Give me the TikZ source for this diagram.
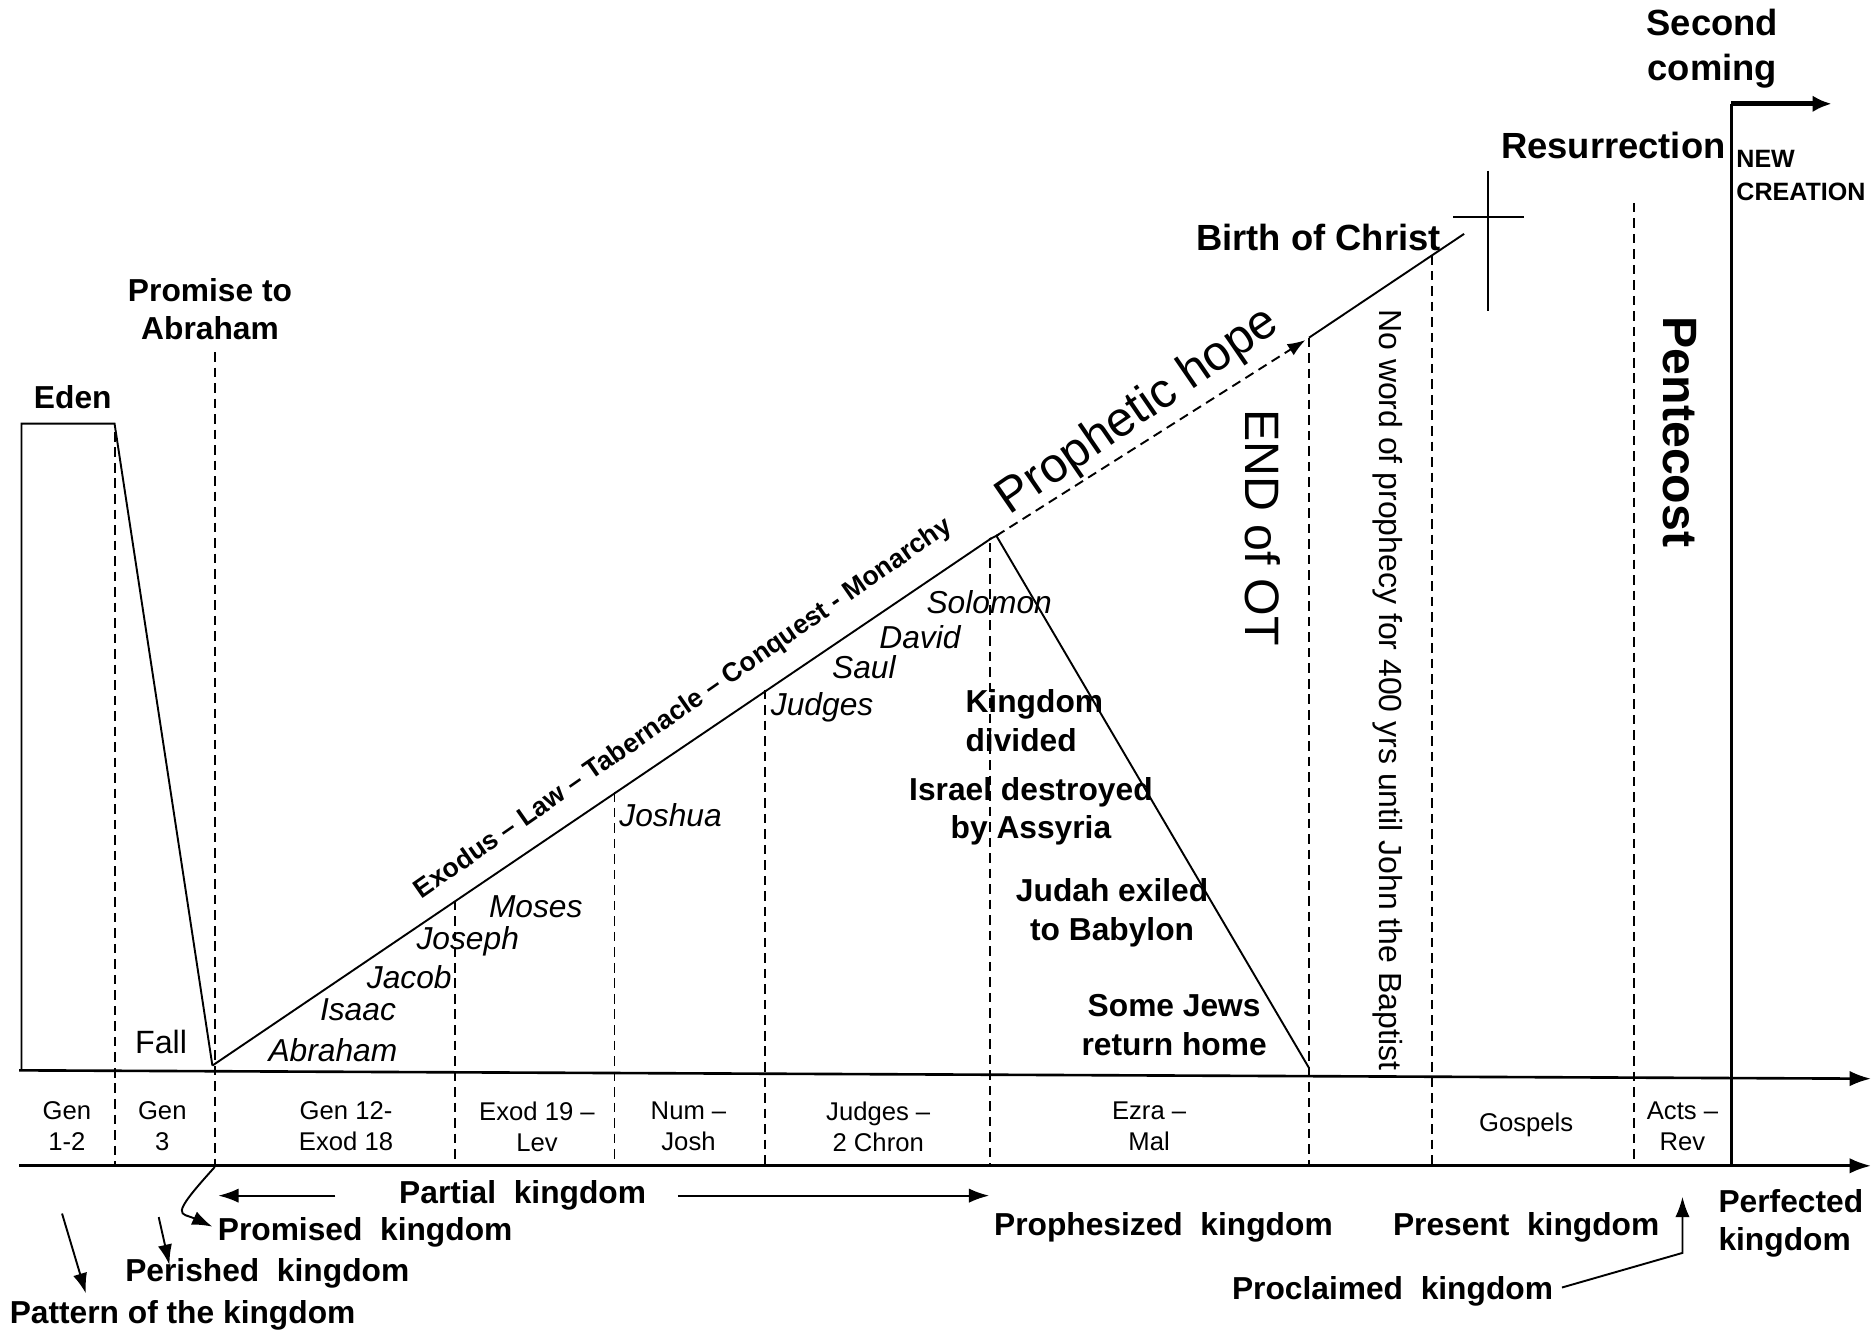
\documentclass[tikz,border=0pt]{standalone}
\usepackage{fontspec}
\setmainfont{Liberation Sans}
\usetikzlibrary{arrows.meta}
\begin{document}
\begin{tikzpicture}[x=1pt,y=-1pt,
  lbl/.style={font=\fontsize{26.6}{32}\selectfont\bfseries, inner sep=0, align=center},
  big/.style={font=\fontsize{30.5}{38}\selectfont\bfseries, inner sep=0, align=center},
  ital/.style={font=\fontsize{26.6}{30}\selectfont\itshape, inner sep=0},
  refl/.style={font=\fontsize{21.5}{26}\selectfont, inner sep=0, align=center},
  dsh/.style={dash pattern=on 8pt off 5pt, line width=1.6pt},
  ln/.style={line width=1.6pt},
  axis/.style={line width=2.2pt, -{Latex[length=18pt,width=13pt]}},
  arr/.style={line width=1.6pt, -{Latex[length=17pt,width=12pt]}}]
\useasboundingbox (0,0) rectangle (1568,1116);

% axes
\coordinate (axL) at (16,897);
\coordinate (axR) at (1568,904);
\coordinate (bxL) at (16,977);
\coordinate (bxR) at (1568,977);
\draw[axis] (axL) -- (axR);
\draw[axis] (bxL) -- (bxR);

% key points of the curve
\coordinate (e0) at (18,897);
\coordinate (e1) at (18,355);
\coordinate (e2) at (96,355);
\coordinate (fall) at (178,893);
\coordinate (peak) at (831,451);
\coordinate (peak2) at (835,449);
\coordinate (ret) at (1097,895);
\coordinate (phend) at (1094,285);
\coordinate (bc0) at (1097,283);
\coordinate (bc1) at (1227,196);

\draw[ln] (e0) -- (e1) -- (e2) -- (fall);
\draw[ln] (fall) -- (peak);
\draw[ln] (peak2) -- (ret);
\draw[ln] (829,452) -- (837,448);
\draw[dsh, -{Latex[length=15pt,width=11pt]}] (peak2) -- (phend);
\draw[ln] (bc0) -- (bc1);

% dashed separators
\foreach \x/\t in {96/362, 180/295, 381/755, 515/664, 641/578, 830/455, 1097/283, 1200/214, 1369/170}
  \draw[dsh] (\x,\t) -- (\x,977);
% new creation line
\coordinate (nc0) at (1451,87);
\coordinate (nc1) at (1451,977);
\coordinate (nc2) at (1535,87);
\draw[line width=2.2pt] (nc1) -- (nc0);
\draw[line width=4pt, -{Latex[length=16pt,width=14pt]}] (nc0) -- (nc2);

% cross
\coordinate (cr1) at (1247,143);
\coordinate (cr2) at (1247,261);
\coordinate (cr3) at (1218,182);
\coordinate (cr4) at (1277,182);
\draw[ln] (cr1) -- (cr2);
\draw[ln] (cr3) -- (cr4);

% top labels
\node[big] (second) at (1435,41) {Second\\coming};
\node[big] (resur) at (1352,122) {Resurrection};
\node[font=\fontsize{21}{28}\selectfont\bfseries, inner sep=0, align=left, anchor=west] (newcr) at (1455,147) {NEW\\CREATION};
\node[big] (birth) at (1105,199) {Birth of Christ};
\node[lbl] (promise) at (176,259) {Promise to\\Abraham};
\node[lbl] (eden) at (61,333) {Eden};
\node[font=\fontsize{27}{30}\selectfont, inner sep=0] (fallt) at (135,873) {Fall};

% rotated labels
\node[font=\fontsize{22.3}{26}\selectfont\bfseries, inner sep=0, rotate=34.8] (exodus) at (573,594) {Exodus -- Law -- Tabernacle -- Conquest - Monarchy};
\node[font=\fontsize{41}{46}\selectfont, inner sep=0, rotate=34.5] (hope) at (954,345) {Prophetic hope};
\node[font=\fontsize{40.5}{46}\selectfont, inner sep=0, rotate=-90] (endot) at (1058,442) {END of OT};
\node[font=\fontsize{26.8}{30}\selectfont, inner sep=0, rotate=-90] (noword) at (1163,578) {No word of prophecy for 400 yrs until John the Baptist};
\node[font=\fontsize{40.4}{46}\selectfont\bfseries, inner sep=0, rotate=-90] (pent) at (1408,362) {Pentecost};

% italic names
\node[ital] (abr) at (279,880) {Abraham};
\node[ital] (isaac) at (300,846) {Isaac};
\node[ital] (jacob) at (343,819) {Jacob};
\node[ital] (joseph) at (392,789) {Joseph};
\node[ital] (moses) at (449,760) {Moses};
\node[ital] (joshua) at (562,683) {Joshua};
\node[ital] (judges) at (689,593) {Judges};
\node[ital] (saul) at (724,559) {Saul};
\node[ital] (david) at (771,534) {David};
\node[ital] (solomon) at (829,505) {Solomon};

% bold events
\node[lbl, align=left, anchor=west] (kdiv) at (809,604) {Kingdom\\divided};
\node[lbl] (israel) at (864,680) {Israel destroyed\\by Assyria};
\node[lbl] (judah) at (932,765) {Judah exiled\\to Babylon};
\node[lbl] (jews) at (984,859) {Some Jews\\return home};

% book references
\node[refl] (r1) at (56,944) {Gen\\1-2};
\node[refl] (r2) at (136,944) {Gen\\3};
\node[refl] (r3) at (290,944) {Gen 12-\\Exod 18};
\node[refl] (r4) at (450,944) {Exod 19 --\\Lev};
\node[refl] (r5) at (577,944) {Num --\\Josh};
\node[refl] (r6) at (736,944) {Judges --\\2 Chron};
\node[refl] (r7) at (963,944) {Ezra --\\Mal};
\node[refl] (r8) at (1279,943) {Gospels};
\node[refl] (r9) at (1410,944) {Acts --\\Rev};

% kingdom labels
\node[lbl] (partial) at (438,1002) {Partial~~kingdom};
\node[lbl] (promised) at (306,1033) {Promised~~kingdom};
\node[lbl] (perished) at (224,1067) {Perished~~kingdom};
\node[lbl] (pattern) at (153,1102) {Pattern of the kingdom};
\node[lbl] (prophes) at (975,1029) {Prophesized~~kingdom};
\node[lbl] (present) at (1279,1029) {Present~~kingdom};
\node[lbl] (proclaim) at (1167,1082) {Proclaimed~~kingdom};
\node[lbl, align=left, anchor=west] (perfect) at (1440,1025) {Perfected\\kingdom};

% kingdom arrows
\coordinate (pa1) at (281,1002);
\coordinate (pa2) at (183,1002);
\coordinate (pa3) at (568,1002);
\coordinate (pa4) at (829,1002);
\draw[arr] (pa1) -- (pa2);
\draw[arr] (pa3) -- (pa4);
\coordinate (pt1) at (52,1017);
\coordinate (pt2) at (72,1084);
\draw[arr] (pt1) -- (pt2);
\coordinate (pe1) at (133,1020);
\coordinate (pe2) at (142,1060);
\draw[arr] (pe1) -- (pe2);
\coordinate (pr1) at (180,978);
\coordinate (pr2) at (178,1028);
\draw[arr] (pr1) .. controls (140,1022) and (152,1016) .. (pr2);
\coordinate (pc1) at (1309,1079);
\coordinate (pc2) at (1410,1050);
\coordinate (pc3) at (1410,1003);
\draw[arr] (pc1) -- (pc2) -- (pc3);
\end{tikzpicture}
\end{document}
